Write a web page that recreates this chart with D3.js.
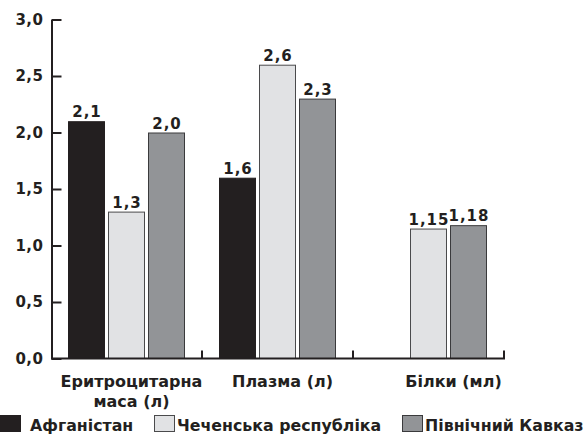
<!DOCTYPE html>
<html><head><meta charset="utf-8">
<script src="https://cdn.jsdelivr.net/npm/d3@7"></script>
<style>
html,body{margin:0;padding:0;background:#fff;}
</style></head>
<body>
<svg id="c" width="586" height="435"></svg>
<script>
const categories = [["Еритроцитарна","маса (л)"], ["Плазма (л)"], ["Білки (мл)"]];
const seriesNames = ["Афганістан", "Чеченська республіка", "Північний Кавказ"];
const afghanistan = [2.1, 1.6, null];
const chechnya = [1.3, 2.6, 1.15];
const northCaucasus = [2.0, 2.3, 1.18];
const valueLabels = [["2,1","1,6",null],["1,3","2,6","1,15"],["2,0","2,3","1,18"]];
const yTicks = [0, 0.5, 1.0, 1.5, 2.0, 2.5, 3.0];

const colors = ["#231f20", "#e1e2e4", "#929497"];
const strokes = ["#231f20", "#4a4a4c", "#3a3a3c"];
const series = [afghanistan, chechnya, northCaucasus];
const FONT = "'DejaVu Sans', sans-serif";

const svg = d3.select("#c");
const catIdx = categories.map((d,i)=>i);
const x = d3.scaleBand().domain(catIdx).range([51, 504]).padding(0);
const xs = d3.scaleBand().domain([0,1,2]).range([17, 134]).paddingInner(0.075).paddingOuter(0);
const y = d3.scaleLinear().domain([0, 3]).range([358.5, 19.5]);

function txt(sel, size, ls) {
  return sel.attr("font-family", FONT).attr("font-weight", "bold").attr("font-size", size)
    .attr("letter-spacing", ls || 0).attr("fill", "#231f20");
}

// bars
series.forEach((vals, s) => {
  vals.forEach((v, c) => {
    if (v == null) return;
    const bx = x(c) + xs(s);
    svg.append("rect")
      .attr("x", bx + 0.5).attr("y", y(v) + 0.5)
      .attr("width", xs.bandwidth() - 1).attr("height", y(0) - y(v) - 0.5)
      .attr("fill", colors[s]).attr("stroke", strokes[s]).attr("stroke-width", 1);
    txt(svg.append("text"), 15, 1)
      .attr("x", bx + xs.bandwidth()/2 + 0.5).attr("y", y(v) - 4)
      .attr("text-anchor", "middle")
      .text(valueLabels[s][c]);
  });
});

// y axis
const yAxis = d3.axisLeft(y).tickValues(yTicks).tickSizeInner(-10).tickSizeOuter(0).tickPadding(8)
  .tickFormat(d => d3.format(".1f")(d).replace(".", ","));
const gy = svg.append("g").attr("transform", "translate(51.5,0)").call(yAxis);
gy.selectAll("path,line").attr("stroke", "#231f20").attr("stroke-width", 2);
txt(gy.selectAll("text"), 15, 0.5);
gy.attr("font-family", FONT).attr("font-size", 15);

// x axis
const gx = svg.append("g");
gx.append("line").attr("x1", 51).attr("x2", x(2) + x.bandwidth() + 1)
  .attr("y1", y(0)).attr("y2", y(0)).attr("stroke", "#231f20").attr("stroke-width", 2);
gx.selectAll("line.t").data(catIdx).join("line").attr("class", "t")
  .attr("x1", c => x(c) + x.bandwidth()).attr("x2", c => x(c) + x.bandwidth())
  .attr("y1", y(0)).attr("y2", y(0) - 8).attr("stroke", "#231f20").attr("stroke-width", 2);

// category labels: centred under the drawn bars of each group
catIdx.forEach(c => {
  const centers = series.map((vals, s) => vals[c] == null ? null : x(c) + xs(s) + xs.bandwidth()/2).filter(v => v != null);
  const cx = d3.mean(centers) + 5;
  const t = txt(svg.append("text"), 16).attr("x", cx).attr("y", 387).attr("text-anchor", "middle");
  categories[c].forEach((line, i) => {
    t.append("tspan").attr("x", cx).attr("dy", i === 0 ? 0 : 20).text(line);
  });
});

// legend
const legX = [0, 154, 402];
seriesNames.forEach((n, s) => {
  svg.append("rect").attr("x", legX[s] + 0.5).attr("y", 415.5).attr("width", 20).attr("height", 16)
    .attr("fill", colors[s]).attr("stroke", strokes[s]).attr("stroke-width", 1);
  txt(svg.append("text"), 15.8).attr("x", legX[s] + (s === 0 ? 30 : 23)).attr("y", 431).text(n);
});
</script>
</body></html>
